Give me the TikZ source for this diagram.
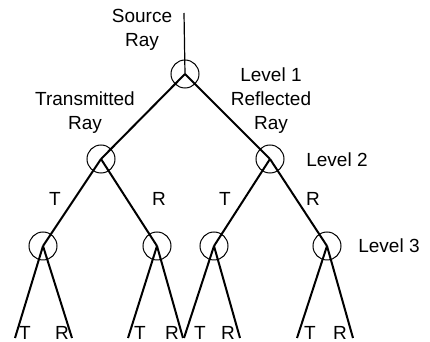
\documentclass[tikz,border=0pt]{standalone}
\usepackage{fontspec}
\setmainfont{Liberation Sans}
\begin{document}
\begin{tikzpicture}[x=0.5pt,y=-0.5pt,
    ray/.style={line width=1pt},
    hit/.style={circle,draw,line width=0.5pt,minimum size=14pt,inner sep=0pt},
    lbl/.style={font=\fontsize{9.5}{12}\selectfont,align=center,inner sep=0pt}]
  \useasboundingbox (0,0) rectangle (430,342);

  \coordinate (src) at (184,13);
  \node[hit] (lvA) at (185,74) {};
  \node[hit] (lvB) at (101,159) {};
  \node[hit] (lvC) at (270,159) {};

  \foreach \n/\x/\lx/\rx in {a/43/15/72,b/157/128/183,c/214/184/240,d/327/297/353} {
    \node[hit] (\n) at (\x,246) {};
    \coordinate (\n T) at (\lx,338);
    \coordinate (\n R) at (\rx,338);
    \draw[ray] (\n.center) -- (\n T);
    \draw[ray] (\n.center) -- (\n R);
  }

  \draw[line width=0.6pt] (src) -- (lvA.center);
  \draw[ray] (lvA.center) -- (lvB.center);
  \draw[ray] (lvA.center) -- (lvC.center);
  \draw[ray] (lvB.center) -- (a.center);
  \draw[ray] (lvB.center) -- (b.center);
  \draw[ray] (lvC.center) -- (c.center);
  \draw[ray] (lvC.center) -- (d.center);

  \node[lbl] (srcLbl) at (142,30) {Source\\Ray};
  \node[lbl] (trLbl) at (85,113) {Transmitted\\Ray};
  \node[lbl] (rfLbl) at (271,101) {Level 1\\Reflected\\Ray};
  \node[lbl] (lv2Lbl) at (337,160) {Level 2};
  \node[lbl] (lv3Lbl) at (389,246) {Level 3};

  \foreach \t/\x in {T/55,R/159,T/225,R/313}
    \node[lbl] (mid\x) at (\x,199) {\t};
  \foreach \t/\x in {T/25,R/62,T/140,R/172,T/200,R/228,T/310,R/340}
    \node[lbl] (leaf\x) at (\x,333) {\t};
\end{tikzpicture}
\end{document}
